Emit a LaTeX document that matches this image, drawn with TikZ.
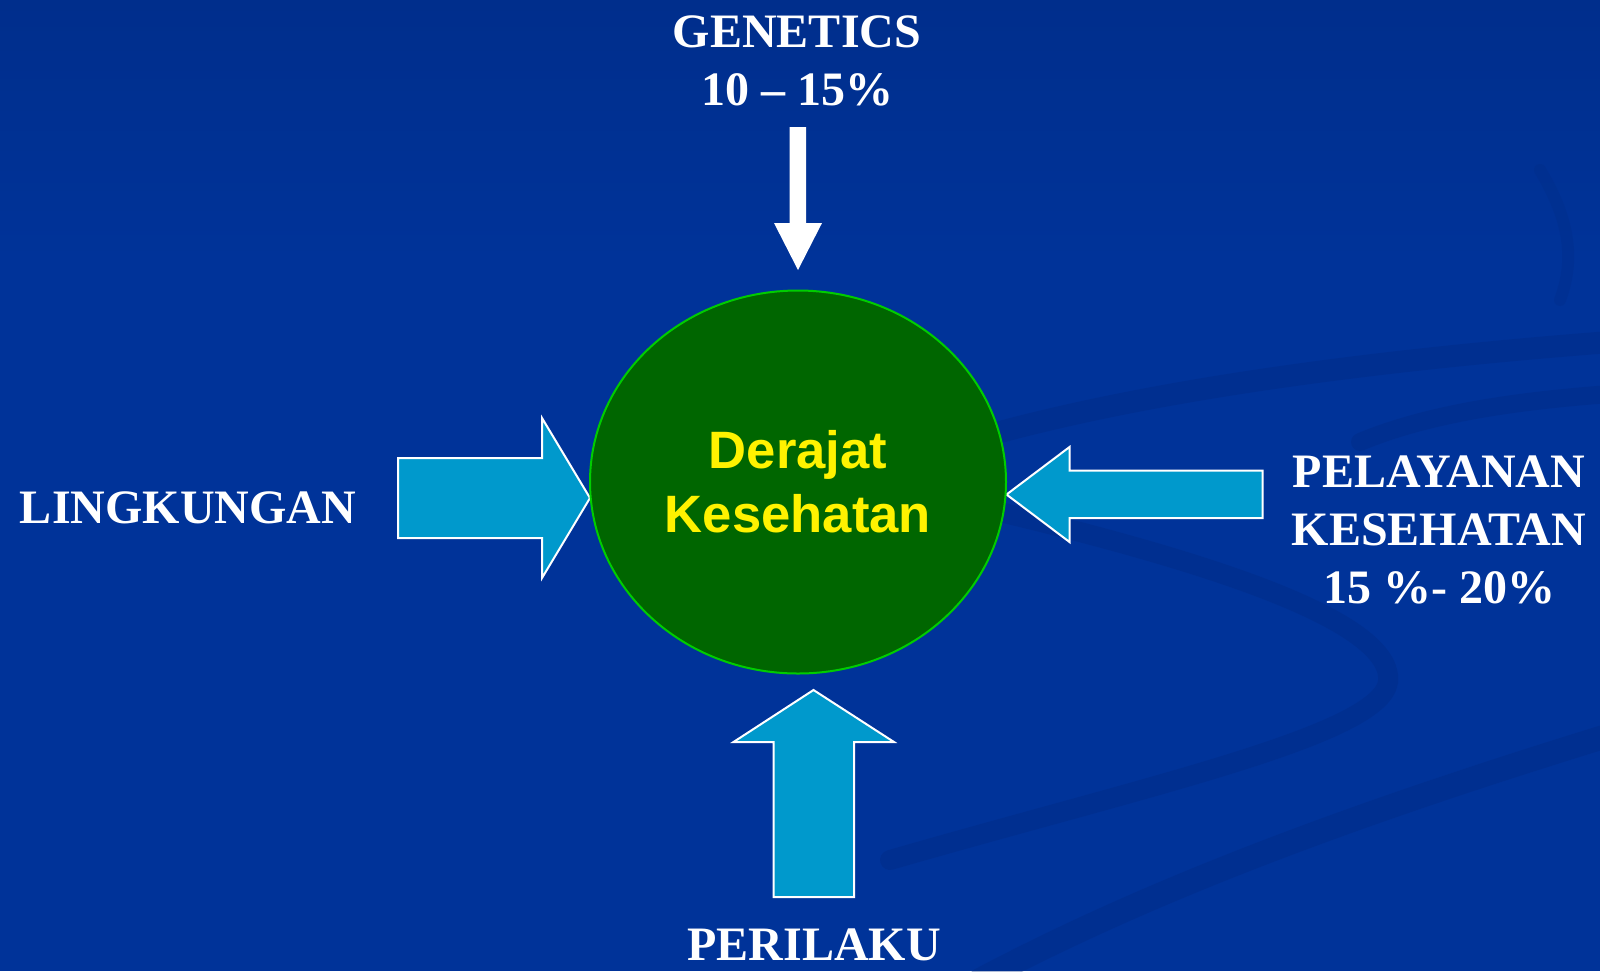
\documentclass[tikz,border=0pt]{standalone}
\usepackage{fontspec}
\newfontfamily\tnr{Liberation Serif}
\newfontfamily\ari{Liberation Sans}
\usetikzlibrary{shapes.geometric}
\definecolor{bgblue}{RGB}{0,51,153}
\definecolor{bgtop}{RGB}{0,46,140}
\definecolor{swoosh}{RGB}{0,40,125}
\definecolor{arrowcyan}{RGB}{0,153,204}
\definecolor{circgreen}{RGB}{0,102,0}
\definecolor{circedge}{RGB}{0,204,0}
\begin{document}
\begin{tikzpicture}[x=0.5pt,y=-0.5pt,
  lbl/.style={text=white,font=\tnr\bfseries\fontsize{24}{29}\selectfont,inner sep=0pt,anchor=base},
  blockarrow/.style={fill=arrowcyan,draw=white,line width=1pt,line join=miter},
  swoo/.style={draw=swoosh,line width=11pt,opacity=0.3,line cap=round}]
\fill[bgblue] (0,0) rectangle (1600,971);
\shade[top color=bgtop,bottom color=bgblue] (0,0) rectangle (1600,260);
\useasboundingbox (0,0) rectangle (1600,971);
\begin{scope}
\clip (0,0) rectangle (1600,971);
\draw[swoo] (1000,432) .. controls (1150,392) and (1350,362) .. (1610,342);
\draw[swoo,line width=9pt] (1360,442) .. controls (1420,417) and (1500,402) .. (1610,394);
\draw[swoo,line width=10pt] (1000,512) .. controls (1200,560) and (1395,620) .. (1388,682) .. controls (1380,735) and (1150,785) .. (890,860);
\draw[swoo,line width=12pt] (1610,735) .. controls (1350,815) and (1150,890) .. (980,980);
\draw[swoo,line width=6pt,opacity=0.2] (1540,170) .. controls (1570,220) and (1575,260) .. (1560,300);
\end{scope}
% genetics arrow
\fill[white] (789.5,127) -- (806,127) -- (806,223) -- (822,223) -- (798,270) -- (774,223) -- (789.5,223) -- cycle;
% block arrows
\draw[blockarrow] (398,458) -- (542,458) -- (542,418) -- (590,498) -- (542,578) -- (542,538) -- (398,538) -- cycle;
\draw[blockarrow] (1262.5,470.5) -- (1069.5,470.5) -- (1069.5,447) -- (1006.5,494.5) -- (1069.5,542) -- (1069.5,518) -- (1262.5,518) -- cycle;
\draw[blockarrow] (773.5,897) -- (773.5,742) -- (733.5,742) -- (813.5,690) -- (894,742) -- (854,742) -- (854,897) -- cycle;
% central ellipse
\node[ellipse,draw=circedge,fill=circgreen,line width=1pt,inner sep=0pt,
  minimum width=208pt,minimum height=191.5pt,text=yellow,align=center,
  font=\ari\bfseries\fontsize{26.3}{32}\selectfont] (derajat) at (798,482) {Derajat\\Kesehatan};
% labels
\node[lbl] (gen1) at (797,47) {GENETICS};
\node[lbl] (gen2) at (797,105) {10 – 15\%};
\node[lbl] (ling) at (188,523) {LINGKUNGAN};
\node[lbl] (pel1) at (1439,487) {PELAYANAN};
\node[lbl] (pel2) at (1439,545) {KESEHATAN};
\node[lbl] (pel3) at (1439,603) {15 \%- 20\%};
\node[lbl] (peri) at (814,960) {PERILAKU};
\end{tikzpicture}
\end{document}
